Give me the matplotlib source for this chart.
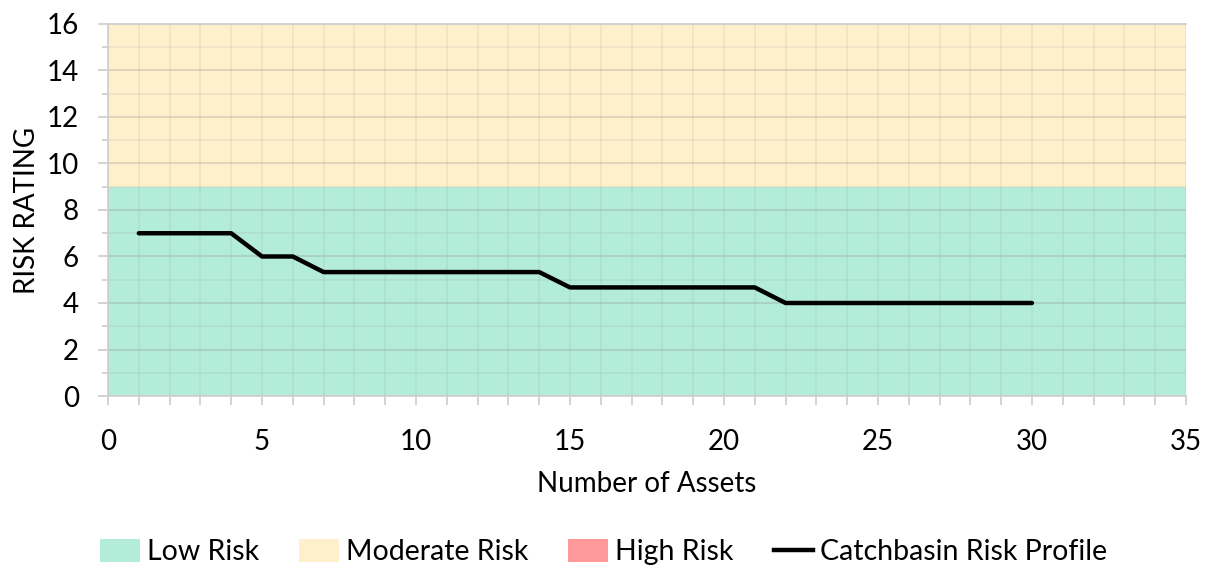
import numpy as np
import matplotlib.pyplot as plt
from matplotlib.patches import Patch
from matplotlib.lines import Line2D
from matplotlib.ticker import MultipleLocator

plt.rcParams['font.family'] = ['Lato', 'DejaVu Sans']

# band limits
low_top = 9
moderate_top = 16
x_max = 35

# catchbasin risk profile
assets = list(range(1, 31))
risk = [7, 7, 7, 7, 6, 6] + [5.33] * 8 + [4.67] * 7 + [4] * 9

fig = plt.figure(figsize=(12.15, 5.68), dpi=100)
ax = fig.add_axes([0.0889, 0.3028, 0.8872, 0.655])

ax.axhspan(0, low_top, color='#b3ecd8', zorder=0, lw=0)
ax.axhspan(low_top, moderate_top, color='#fdf0ca', zorder=0, lw=0)

ax.plot(assets, risk, color='black', lw=3.2, solid_capstyle='round', zorder=5)

ax.set_xlim(0, x_max)
ax.set_ylim(0, moderate_top)
ax.xaxis.set_major_locator(MultipleLocator(5))
ax.xaxis.set_minor_locator(MultipleLocator(1))
ax.yaxis.set_major_locator(MultipleLocator(2))
ax.yaxis.set_minor_locator(MultipleLocator(1))

ax.grid(axis='y', which='major', color='#909090', alpha=0.3, lw=1.3, zorder=1)
ax.grid(axis='y', which='minor', color='#a0a0a0', alpha=0.18, lw=1.2, zorder=1)
ax.grid(axis='x', which='both', color='#a0a0a0', alpha=0.18, lw=1.2, zorder=1)

ax.spines['right'].set_visible(False)
for s in ['top', 'left', 'bottom']:
    ax.spines[s].set_color('#d0d0d0')
    ax.spines[s].set_linewidth(1.3)

ax.tick_params(axis='x', which='both', length=6.5, color='#d0d0d0', width=1.3,
               labelsize=20, pad=17)
ax.tick_params(axis='y', which='major', length=7, color='#d0d0d0', width=1.3,
               labelsize=20, pad=14)
ax.tick_params(axis='y', which='minor', length=4.5, color='#d0d0d0', width=1.3)

ax.set_xlabel('Number of Assets', fontsize=20, labelpad=12)
ax.set_ylabel('RISK RATING', fontsize=20, labelpad=5)

handles = [
    Patch(facecolor='#b3ecd8', edgecolor='none', label='Low Risk'),
    Patch(facecolor='#fdf0ca', edgecolor='none', label='Moderate Risk'),
    Patch(facecolor='#ff9999', edgecolor='none', label='High Risk'),
    Line2D([0], [0], color='black', lw=3.2, label='Catchbasin Risk Profile'),
]
fig.legend(handles=handles, loc='center', bbox_to_anchor=(0.497, 0.028),
           ncol=4, frameon=False, fontsize=20.5, handlelength=1.4,
           handleheight=0.9, handletextpad=0.25, columnspacing=1.4)

fig.savefig('out.png', dpi=100)
